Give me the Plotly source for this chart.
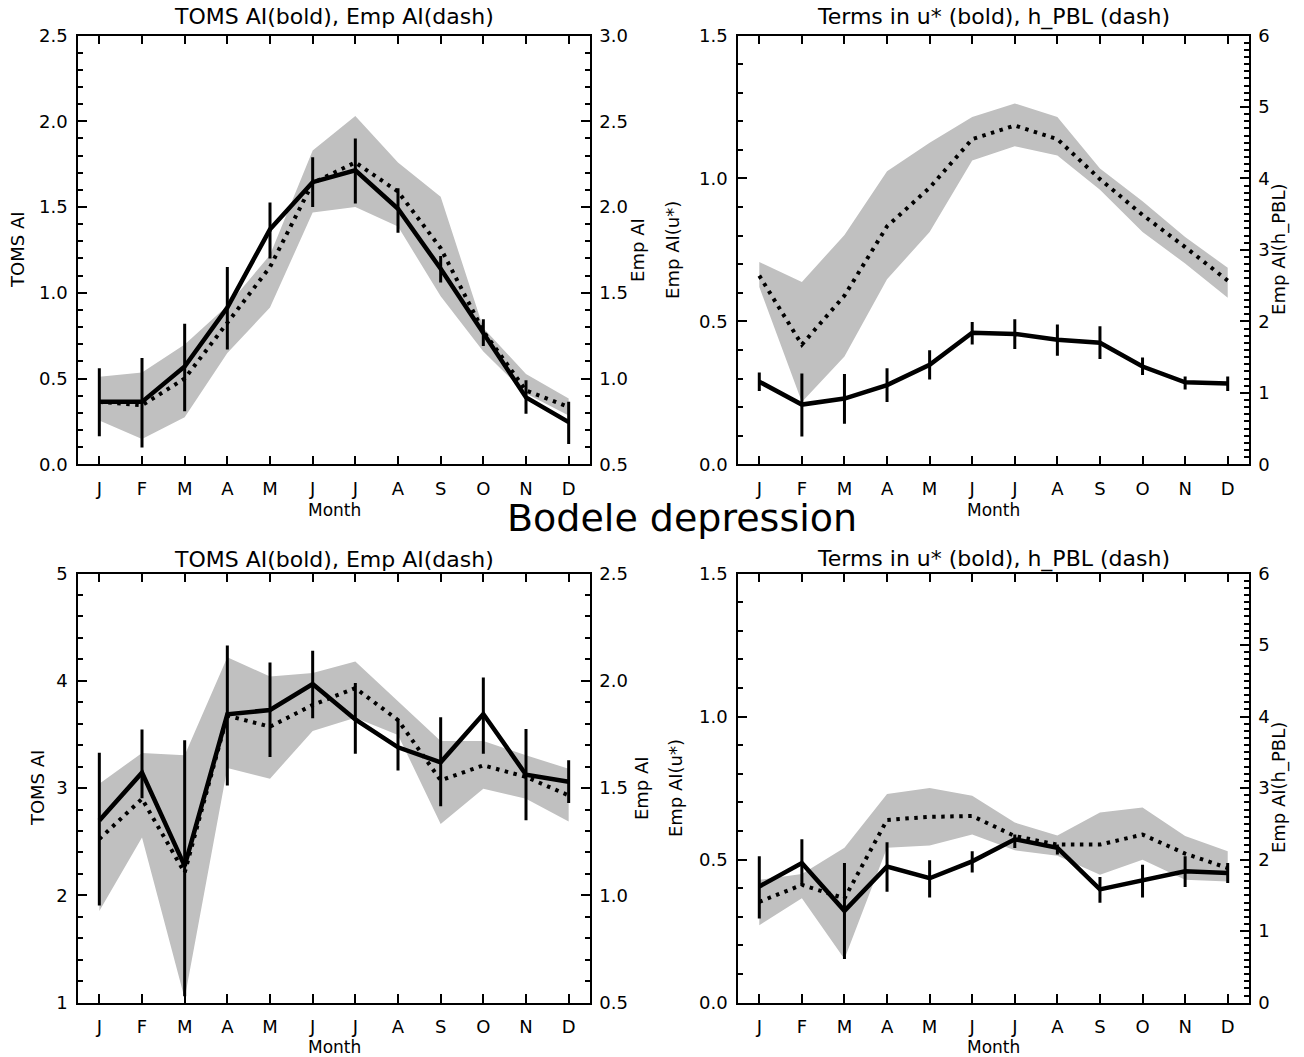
import plotly.graph_objects as go

# ---------------- data ----------------
month_labels = ["J", "F", "M", "A", "M", "J", "J", "A", "S", "O", "N", "D"]
month_num = list(range(1, 13))

# Panel 1 (top-left): TOMS AI (left axis) and Emp AI (right axis)
toms1 = [0.364, 0.364, 0.57, 0.914, 1.37, 1.645, 1.714, 1.49, 1.14, 0.77, 0.39, 0.246]
toms1_hi = [0.56, 0.62, 0.82, 1.15, 1.527, 1.79, 1.90, 1.61, 1.215, 0.845, 0.49, 0.364]
toms1_lo = [0.163, 0.098, 0.31, 0.67, 1.2, 1.50, 1.52, 1.35, 1.06, 0.69, 0.295, 0.118]
emp1 = [0.864, 0.844, 1.0, 1.325, 1.65, 2.14, 2.26, 2.09, 1.76, 1.276, 0.93, 0.834]
emp1_hi = [1.011, 1.035, 1.198, 1.424, 1.72, 2.33, 2.53, 2.26, 2.06, 1.295, 1.027, 0.883]
emp1_lo = [0.755, 0.647, 0.775, 1.149, 1.414, 1.968, 2.0, 1.886, 1.48, 1.158, 0.913, 0.785]

# Panel 2 (top-right): Emp AI(u*) (left) and Emp AI(h_PBL) (right)
u2 = [0.289, 0.209, 0.23, 0.277, 0.348, 0.46, 0.456, 0.436, 0.425, 0.342, 0.287, 0.283]
u2_hi = [0.321, 0.318, 0.316, 0.336, 0.399, 0.498, 0.507, 0.489, 0.483, 0.374, 0.307, 0.307]
u2_lo = [0.256, 0.097, 0.142, 0.218, 0.297, 0.419, 0.403, 0.38, 0.368, 0.3125, 0.262, 0.256]
h2 = [2.64, 1.675, 2.36, 3.33, 3.87, 4.55, 4.74, 4.55, 3.99, 3.49, 3.04, 2.57]
h2_hi = [2.83, 2.55, 3.21, 4.10, 4.50, 4.86, 5.05, 4.86, 4.14, 3.68, 3.18, 2.75]
h2_lo = [2.48, 0.873, 1.51, 2.59, 3.25, 4.25, 4.45, 4.32, 3.84, 3.25, 2.81, 2.33]

# Panel 3 (bottom-left)
toms3 = [2.697, 3.144, 2.275, 3.6875, 3.728, 3.97, 3.64, 3.38, 3.24, 3.69, 3.125, 3.06]
toms3_hi = [3.33, 3.547, 3.447, 4.33, 4.17, 4.28, 3.98, 3.64, 3.66, 4.03, 3.55, 3.26]
toms3_lo = [1.906, 2.906, 1.06, 3.025, 3.29, 3.65, 3.32, 3.165, 2.83, 3.32, 2.70, 2.86]
emp3 = [1.2625, 1.45, 1.106, 1.8375, 1.786, 1.8875, 1.966, 1.817, 1.536, 1.606, 1.552, 1.466]
emp3_hi = [1.52, 1.664, 1.653, 2.11, 2.02, 2.036, 2.09, 1.903, 1.72, 1.72, 1.653, 1.59]
emp3_lo = [0.927, 1.27, 0.52, 1.594, 1.544, 1.766, 1.828, 1.747, 1.333, 1.497, 1.45, 1.344]

# Panel 4 (bottom-right)
u4 = [0.406, 0.488, 0.321, 0.476, 0.435, 0.494, 0.571, 0.541, 0.396, 0.429, 0.459, 0.453]
u4_hi = [0.512, 0.571, 0.488, 0.561, 0.498, 0.529, 0.588, 0.553, 0.439, 0.482, 0.512, 0.488]
u4_lo = [0.294, 0.408, 0.153, 0.388, 0.368, 0.455, 0.541, 0.518, 0.349, 0.368, 0.404, 0.418]
h4 = [1.41, 1.647, 1.459, 2.555, 2.598, 2.61, 2.33, 2.21, 2.21, 2.35, 2.085, 1.882]
h4_hi = [1.718, 1.80, 2.165, 2.918, 3.0, 2.894, 2.518, 2.339, 2.66, 2.729, 2.33, 2.118]
h4_lo = [1.082, 1.459, 0.612, 2.165, 2.198, 2.353, 2.13, 2.056, 1.788, 2.0, 1.718, 1.694]

titles = ["TOMS AI(bold), Emp AI(dash)", "Terms in u* (bold), h_PBL (dash)",
          "TOMS AI(bold), Emp AI(dash)", "Terms in u* (bold), h_PBL (dash)"]
left_titles = ["TOMS AI", "Emp AI(u*)", "TOMS AI", "Emp AI(u*)"]
right_titles = ["Emp AI", "Emp AI(h_PBL)", "Emp AI", "Emp AI(h_PBL)"]
main_title = "Bodele depression"

# ---------------- layout geometry ----------------
W, H = 1304, 1057
FONT = "DejaVu Sans"
x_dom = [[78 / W, 590 / W], [738 / W, 1249 / W], [78 / W, 590 / W], [738 / W, 1249 / W]]
y_dom = [[1 - 464.3 / H, 1 - 35.5 / H], [1 - 464.3 / H, 1 - 35.5 / H],
         [1 - 1002.7 / H, 1 - 573.5 / H], [1 - 1002.7 / H, 1 - 573.5 / H]]

left_cfg = [
    dict(range=[0, 2.5], dtick=0.5, minor=0.1, fmt=".1f"),
    dict(range=[0, 1.5], dtick=0.5, minor=0.1, fmt=".1f"),
    dict(range=[1, 5], dtick=1, minor=0.2, fmt="d"),
    dict(range=[0, 1.5], dtick=0.5, minor=0.1, fmt=".1f"),
]
right_cfg = [
    dict(range=[0.5, 3.0], dtick=0.5, minor=0.1, fmt=".1f"),
    dict(range=[0, 6], dtick=1, minor=0.1, fmt="d"),
    dict(range=[0.5, 2.5], dtick=0.5, minor=0.1, fmt=".1f"),
    dict(range=[0, 6], dtick=1, minor=0.1, fmt="d"),
]

panels = [
    (toms1, toms1_hi, toms1_lo, emp1, emp1_hi, emp1_lo),
    (u2, u2_hi, u2_lo, h2, h2_hi, h2_lo),
    (toms3, toms3_hi, toms3_lo, emp3, emp3_hi, emp3_lo),
    (u4, u4_hi, u4_lo, h4, h4_hi, h4_lo),
]

GRAY = "rgb(192,192,192)"
fig = go.Figure()
layout = dict(
    width=W, height=H, margin=dict(l=0, r=0, t=0, b=0, pad=0, autoexpand=False),
    autosize=False,
    paper_bgcolor="white", plot_bgcolor="white", showlegend=False,
    font=dict(family=FONT, color="black", size=18),
)

for i, (sol, sol_hi, sol_lo, dsh, band_hi, band_lo) in enumerate(panels):
    p = i + 1
    xa = "x" if p == 1 else f"x{p}"
    yb = "y" if p == 1 else f"y{p}"       # right axis (base)
    yo = f"y{p + 4}"                       # left axis (overlay)
    # band (right axis)
    fig.add_trace(go.Scatter(x=month_num, y=band_lo, mode="lines", line=dict(width=0, color=GRAY),
                             xaxis=xa, yaxis=yb, hoverinfo="skip"))
    fig.add_trace(go.Scatter(x=month_num, y=band_hi, mode="lines", line=dict(width=0, color=GRAY),
                             fill="tonexty", fillcolor=GRAY, xaxis=xa, yaxis=yb, hoverinfo="skip"))
    # dotted line (right axis)
    fig.add_trace(go.Scatter(x=month_num, y=dsh, mode="lines",
                             line=dict(color="black", width=4, dash="3.5px,5.5px"),
                             xaxis=xa, yaxis=yb))
    # bold line with error bars (left axis)
    fig.add_trace(go.Scatter(
        x=month_num, y=sol, mode="lines", line=dict(color="black", width=4.5),
        error_y=dict(type="data", symmetric=False,
                     array=[h - v for h, v in zip(sol_hi, sol)],
                     arrayminus=[v - l for v, l in zip(sol, sol_lo)],
                     color="black", thickness=3, width=0),
        xaxis=xa, yaxis=yo))

    xkey = "xaxis" if p == 1 else f"xaxis{p}"
    ybkey = "yaxis" if p == 1 else f"yaxis{p}"
    yokey = f"yaxis{p + 4}"
    layout[xkey] = dict(
        domain=x_dom[i], anchor=yb, range=[0.5, 12.5], automargin=False,
        tickmode="array", tickvals=month_num, ticktext=month_labels,
        ticks="inside", ticklen=9, tickwidth=1.5, tickcolor="black",
        showline=True, linecolor="black", linewidth=1.5, mirror="ticks",
        showgrid=False, zeroline=False, ticklabelstandoff=7,
        tickfont=dict(size=18, family=FONT),
    )
    rc = right_cfg[i]
    layout[ybkey] = dict(
        domain=y_dom[i], anchor=xa, side="right", range=rc["range"], automargin=False,
        dtick=rc["dtick"], tick0=0, tickformat=rc["fmt"],
        ticks="inside", ticklen=9, tickwidth=1.5, tickcolor="black",
        minor=dict(dtick=rc["minor"], ticks="inside", ticklen=5, tickwidth=1.5, tickcolor="black"),
        showline=True, linecolor="black", linewidth=1.5,
        showgrid=False, zeroline=False, ticklabelstandoff=4,
        tickfont=dict(size=18, family=FONT),
    )
    lc = left_cfg[i]
    layout[yokey] = dict(
        anchor=xa, overlaying=yb, side="left", range=lc["range"], automargin=False,
        dtick=lc["dtick"], tick0=0, tickformat=lc["fmt"],
        ticks="inside", ticklen=9, tickwidth=1.5, tickcolor="black",
        minor=dict(dtick=lc["minor"], ticks="inside", ticklen=5, tickwidth=1.5, tickcolor="black"),
        showline=True, linecolor="black", linewidth=1.5,
        showgrid=False, zeroline=False, ticklabelstandoff=5,
        tickfont=dict(size=18, family=FONT),
    )

ann = []
title_y = [1 - 17 / H, 1 - 17 / H, 1 - 559 / H, 1 - 559 / H]
month_y = [1 - 510 / H, 1 - 510 / H, 1 - 1047 / H, 1 - 1047 / H]
left_title_x = [18 / W, 673 / W, 37 / W, 675 / W]
right_title_x = [638 / W, 1279 / W, 641 / W, 1279 / W]
for i in range(4):
    cx = (x_dom[i][0] + x_dom[i][1]) / 2
    cy = (y_dom[i][0] + y_dom[i][1]) / 2
    ann.append(dict(text=titles[i], x=cx, y=title_y[i], xref="paper", yref="paper",
                    showarrow=False, xanchor="center", yanchor="middle",
                    font=dict(size=22, family=FONT)))
    ann.append(dict(text="Month", x=cx, y=month_y[i], xref="paper", yref="paper",
                    showarrow=False, xanchor="center", yanchor="middle",
                    font=dict(size=17, family=FONT)))
    ann.append(dict(text=left_titles[i], x=left_title_x[i], y=cy, xref="paper", yref="paper",
                    showarrow=False, xanchor="center", yanchor="middle", textangle=-90,
                    font=dict(size=18, family=FONT)))
    ann.append(dict(text=right_titles[i], x=right_title_x[i], y=cy, xref="paper", yref="paper",
                    showarrow=False, xanchor="center", yanchor="middle", textangle=-90,
                    font=dict(size=18, family=FONT)))
ann.append(dict(text=main_title, x=682 / W, y=1 - 518 / H, xref="paper", yref="paper",
                showarrow=False, xanchor="center", yanchor="middle",
                font=dict(size=38, family=FONT)))
layout["annotations"] = ann

fig.update_layout(**layout)
fig.write_html("out.html")
